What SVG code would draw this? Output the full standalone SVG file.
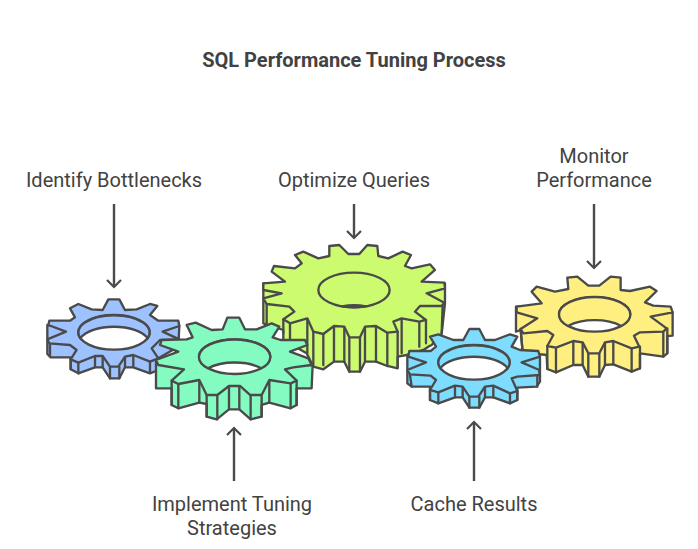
<svg xmlns="http://www.w3.org/2000/svg" width="698" height="549" viewBox="0 0 698 549">
<style>
text{font-family:Roboto,"Liberation Sans",sans-serif;font-size:20px;fill:#424242;text-anchor:middle}
.t{font-weight:700}
.g *{stroke:#4a4a4a;stroke-width:7;stroke-linejoin:round;stroke-linecap:round}
.v{fill:none}
.w{fill:#fff}
.c line{stroke:#4a4a4a;stroke-width:2.4;fill:none}
</style>
<defs>
<marker id="a" viewBox="0 0 16 16" refX="14" refY="8" markerWidth="16" markerHeight="16" markerUnits="userSpaceOnUse" orient="auto"><path d="M7 1L14 8L7 15" fill="none" stroke="#4a4a4a" stroke-width="2.2"/></marker>
</defs>
<rect width="698" height="549" fill="#fff"/>
<text class="t" x="354" y="67">SQL Performance Tuning Process</text>
<g id="gear-optimize" class="g" transform="translate(250,230) scale(.3333)" fill="#ccfb6f">
<path d="M40 160L40 280L100 300L100 330L170 370L190 410L220 418L252 395L283 395L298 425L330 425L345 395L378 395L412 408L443 415L443 380L470 375L520 360L535 350L545 345L575 312L578 285L585 220L585 160Z"/>
<path class="v" d="M50 222V285M100 268V310M120 280V330M172 265V370M190 305V408M220 312V405M252 288V393M283 290V395M298 322V425M330 322V425M345 290V392M378 288V395M412 308V408M443 305V412M455 265V370M508 275V350M528 270V340M578 228L575 310"/>
<path d="M238 48L268 45L295 72L328 72L352 45L382 48L385 78L415 85L458 65L483 75L465 108L485 115L540 103L555 120L515 155L583 158L585 175L530 190L583 218L575 228L510 228L495 245L528 270L508 275L455 265L430 275L443 305L412 308L378 288L345 290L330 322L298 322L283 290L252 288L220 312L190 305L172 265L120 280L100 268L133 245L118 230L50 222L40 205L95 190L40 180L40 160L105 155L65 125L72 108L135 115L155 100L135 75L160 65L205 85L238 78Z"/>
<ellipse cx="312" cy="180" rx="107" ry="52"/>
<path d="M276 229A107 52 0 0 0 348 229A107 52 0 0 0 276 229Z" fill="#bbb" stroke-width="4"/>
</g>
<g id="gear-identify" class="g" transform="translate(30,280) scale(.3333)" fill="#9dc2ff">
<path d="M52 135L52 222L62 232L122 232L122 268L145 280L195 262L218 262L240 295L268 295L285 262L310 262L360 280L385 270L385 235L445 200L448 138Z"/>
<path class="v" d="M60 190V228M122 238V268M145 248V280M195 228V262M218 228V262M240 260V295M268 260V295M285 230V262M310 225V260M360 245V278"/>
<path d="M235 58L268 58L285 90L320 88L360 72L382 78L360 105L385 122L445 122L448 138L398 155L448 178L390 180L365 205L385 235L360 245L310 225L285 230L265 260L240 260L218 228L195 228L145 248L122 238L140 210L120 195L58 190L52 178L108 155L55 135L58 122L120 122L135 112L120 85L145 72L185 88L218 90Z"/>
<ellipse cx="252" cy="157" rx="107" ry="52" class="w"/>
<path d="M151 175A107 52 0 1 1 353 175A107 52 0 0 0 151 175Z"/>
</g>
<g id="gear-implement" class="g" transform="translate(30,280) scale(.3333)" fill="#84fbc0">
<path d="M378 240L378 325L425 325L425 375L445 385L508 368L530 372L530 410L560 418L597 388L628 388L662 418L695 410L695 375L718 368L782 385L800 375L800 325L845 325L848 255Z"/>
<path class="v" d="M425 302V375M445 312V385M508 300V368M530 345V410M562 345V418M597 318V388M628 318V388M662 345V418M695 345V410M718 300V368M782 310V385M800 302V375"/>
<path d="M592 113L628 113L645 148L680 148L725 130L748 140L728 172L752 180L825 180L832 195L780 215L835 235L845 255L790 262L765 268L800 302L782 310L718 300L695 345L660 345L630 318L597 318L562 345L530 345L508 300L445 312L425 302L462 268L385 255L378 240L445 215L390 195L395 180L470 178L488 172L470 135L497 128L545 150L578 148Z"/>
<ellipse cx="614" cy="230" rx="107" ry="52" class="w"/>
<path d="M534 265A107 52 0 1 1 694 265A107 52 0 0 0 534 265Z"/>
</g>
<g id="gear-monitor" class="g" transform="translate(400,265) scale(.3333)" fill="#ffee80">
<path d="M348 125L348 200L362 195L368 262L440 270L442 312L468 322L520 300L548 300L565 335L598 335L615 300L640 298L695 320L720 310L720 265L790 275L802 265L802 213L818 212L818 142Z"/>
<path class="v" d="M362 192L368 262M442 243V312M468 248V322M520 228V298M548 232V300M565 265V335M598 265V335M615 232V300M640 228V298M695 250V320M720 245V310M790 200V275M802 190V265"/>
<path d="M502 38L532 35L565 62L598 62L632 35L662 38L662 75L690 78L750 65L770 78L735 112L760 122L812 125L818 142L752 155L800 190L790 200L720 202L702 212L718 245L695 250L640 228L615 232L598 265L565 265L548 232L520 228L468 248L442 243L460 210L442 198L370 205L362 192L412 160L350 142L350 125L425 115L395 80L410 65L465 80L505 72Z"/>
<ellipse cx="584" cy="148" rx="107" ry="52" class="w"/>
<path d="M504 183A107 52 0 1 1 664 183A107 52 0 0 0 504 183Z"/>
</g>
<g id="gear-cache" class="g" transform="translate(400,265) scale(.3333)" fill="#7edcff">
<path d="M22 275L22 355L35 365L90 365L90 405L115 415L165 397L188 397L208 428L238 428L255 397L280 397L330 415L352 405L352 368L410 365L420 350L420 275Z"/>
<path class="v" d="M30 330L35 365M90 375V405M115 382V415M165 362V397M188 365V397M208 395V428M238 395V428M255 365V397M280 362V397M330 385V415M352 378V405M412 330V365"/>
<path d="M208 192L238 192L255 225L285 225L330 208L352 215L335 245L360 255L415 258L420 275L365 292L418 315L418 330L352 335L335 340L352 378L330 385L280 362L255 365L235 395L208 395L188 365L165 362L115 382L90 375L108 345L92 332L30 328L22 315L78 292L25 275L28 258L92 258L108 245L90 215L115 208L160 225L190 225Z"/>
<ellipse cx="222" cy="292" rx="107" ry="52" class="w"/>
<path d="M121 310A107 52 0 1 1 323 310A107 52 0 0 0 121 310Z"/>
</g>
<g id="connectors" class="c">
<line x1="114" y1="204" x2="114" y2="287" marker-end="url(#a)"/>
<line x1="354" y1="204" x2="354" y2="238" marker-end="url(#a)"/>
<line x1="594" y1="204" x2="594" y2="268" marker-end="url(#a)"/>
<line x1="234" y1="481" x2="234" y2="428" marker-end="url(#a)"/>
<line x1="474" y1="481" x2="474" y2="422" marker-end="url(#a)"/>
</g>
<g id="label-identify"><text x="114" y="187">Identify Bottlenecks</text></g>
<g id="label-optimize"><text x="354" y="187">Optimize Queries</text></g>
<g id="label-monitor"><text x="594" y="163">Monitor</text><text x="594" y="187">Performance</text></g>
<g id="label-implement"><text x="232" y="511">Implement Tuning</text><text x="232" y="535">Strategies</text></g>
<g id="label-cache"><text x="474" y="511">Cache Results</text></g>
</svg>
